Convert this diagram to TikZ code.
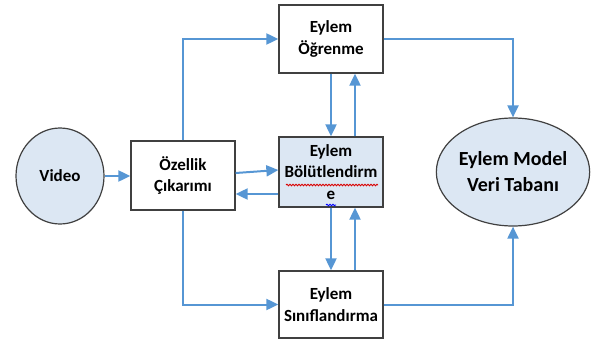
\documentclass[tikz,border=0pt]{standalone}
\usepackage{fontspec}
\setmainfont{Carlito}
\usetikzlibrary{arrows.meta,shapes.geometric,decorations.pathmorphing}
\definecolor{linkblue}{RGB}{86,150,212}
\definecolor{paleblue}{RGB}{220,231,243}
\definecolor{edgegray}{RGB}{64,64,64}
\tikzset{
  boxnode/.style={draw=edgegray,line width=1.3pt,fill=white,minimum width=104pt,
    align=center,inner sep=0pt,font=\bfseries\fontsize{17}{21.5}\selectfont},
  roundnode/.style={ellipse,draw=edgegray,line width=1.2pt,fill=paleblue,inner sep=0pt,
    align=center},
  arr/.style={draw=linkblue,line width=2pt,-{Triangle[length=12pt,width=11pt]}},
  squig/.style={decorate,decoration={snake,amplitude=0.8pt,segment length=3pt},line width=0.9pt}
}
\begin{document}
\begin{tikzpicture}[x=1pt,y=-1pt]
\useasboundingbox (0,0) rectangle (593,345);
\node[roundnode,minimum width=88pt,minimum height=96pt,font=\bfseries\fontsize{17}{21}\selectfont] (video) at (60,176) {Video};
\node[boxnode,minimum height=69pt] (ozellik) at (183,175.5) {Özellik\\Çıkarımı};
\node[boxnode,minimum height=68pt] (ogrenme) at (331,39) {Eylem\\Öğrenme};
\node[boxnode,minimum height=70pt,fill=paleblue] (bolut) at (331,172) {Eylem\\Bölütlendirm\\e};
\node[boxnode,minimum height=67pt] (sinif) at (331,304.5) {Eylem\\Sınıflandırma};
\node[roundnode,minimum width=144pt,minimum height=108pt,font=\bfseries\fontsize{20}{26}\selectfont] (db) at (513,172) {Eylem Model\\Veri Tabanı};
% spelling squiggles
\coordinate (sqa) at (286,185);
\coordinate (sqb) at (378,185);
\coordinate (sqc) at (326,205);
\coordinate (sqd) at (336,205);
\draw[squig,red!85!black] (sqa) -- (sqb);
\draw[squig,blue] (sqc) -- (sqd);
% connectors
\draw[arr] (video.east |- 0,176) -- (ozellik.west |- 0,176);
\draw[arr] (ozellik.north) |- (ogrenme.west);
\draw[arr] (ozellik.south) |- (sinif.west);
\draw[arr] (ozellik.east |- 0,173) -- (bolut.west |- 0,170);
\draw[arr] (bolut.west |- 0,194) -- (ozellik.east |- 0,194);
\draw[arr] (ogrenme.south) -- (bolut.north);
\draw[arr] (bolut.north -| 355,0) -- (ogrenme.south -| 355,0);
\draw[arr] (bolut.south) -- (sinif.north);
\draw[arr] (sinif.north -| 355,0) -- (bolut.south -| 355,0);
\draw[arr] (ogrenme.east) -| (db.north);
\draw[arr] (sinif.east) -| (db.south);
\end{tikzpicture}
\end{document}
